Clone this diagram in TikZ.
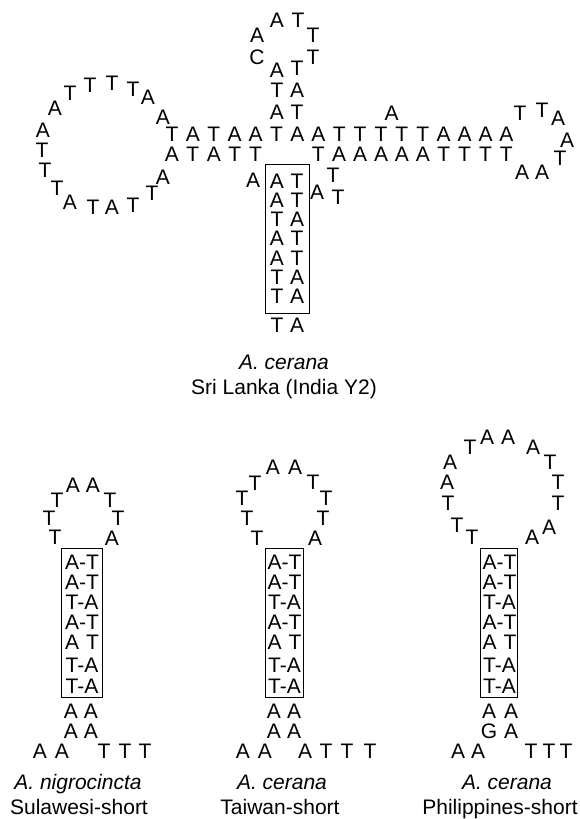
\documentclass[tikz,border=0pt]{standalone}
\usepackage{fontspec}
\setmainfont{Liberation Sans}
\begin{document}
\begin{tikzpicture}[x=1pt,y=-1pt,
  nt/.style={inner sep=0pt,font=\fontsize{21}{25}\selectfont},
  capt/.style={inner sep=0pt,anchor=base,font=\fontsize{21}{25}\selectfont},
  stembox/.style={draw,line width=0.9pt,inner sep=0pt,minimum height=149pt}]
\useasboundingbox (0,0) rectangle (579,819);
% ---------- top structure ----------
\foreach \c [count=\i] in {T,A,T,A,A,T,A,A,T,T,T,T,T,A,A,A,A}
  \node[nt] (u\i) at ({172+(\i-1)*20.9},134) {\c};
\foreach \c [count=\i] in {A,T,A,T,T}
  \node[nt] (l\i) at ({172+(\i-1)*20.9},154) {\c};
\foreach \c [count=\i from 8] in {T,A,A,A,A,A,T,T,T,T}
  \node[nt] (l\i) at ({172+(\i-1)*20.9},154) {\c};
\node[nt] (bulge) at (391.5,113) {A};
% left loop
\foreach \c/\x/\y [count=\i] in {A/163/117,A/148/97,T/133/89,T/112/83,T/90/85,T/70/93,A/55/108,A/43/130,T/42/150,T/45/170,T/57/188,A/70/202,T/93/207,A/112/207,T/133/205,T/152/193,A/163/177}
  \node[nt] (ll\i) at (\x,\y) {\c};
% right loop
\foreach \c/\x/\y [count=\i] in {T/520/113,T/542/110,A/558/118,A/567/140,T/560/158,A/542/172,A/522/172}
  \node[nt] (rl\i) at (\x,\y) {\c};
% top hairpin
\foreach \c/\x/\y [count=\i] in {A/277/112,T/297/112,T/277/90,A/297/90,A/277/70,T/297/68,C/257/57,A/257/35,A/277/20,T/298/20,T/313/35,T/313/57}
  \node[nt] (th\i) at (\x,\y) {\c};
% boxed stem
\node[stembox,minimum width=44pt] (tbox) at (287,238.5) {};
\foreach \a/\b/\y [count=\i] in {A/T/181,A/T/200,T/A/219,A/T/238,A/T/258,T/A/277,T/A/296,T/A/325}
  {\node[nt] (sa\i) at (277,\y) {\a};
   \node[nt] (sb\i) at (297,\y) {\b};}
\node[nt] (sx1) at (253,180) {A};
\node[nt] (sx2) at (317,192) {A};
\node[nt] (sx3) at (333,175) {T};
\node[nt] (sx4) at (338,197) {T};
\node[capt] (c1a) at (284,369.5) {\textit{A. cerana}};
\node[capt] (c1b) at (284,394.5) {Sri Lanka (India Y2)};
% ---------- Sulawesi ----------
\foreach \c/\x/\y [count=\i] in {T/57/500,A/73/485,A/93/485,T/110/500,T/49/518,T/118/518,T/55/537,A/112/538}
  \node[nt] (sl\i) at (\x,\y) {\c};
\node[stembox,minimum width=41pt] (sbox) at (81.5,622.5) {};
\foreach \t/\y [count=\i] in {A-T/562,A-T/582,T-A/602,A-T/622,A\hphantom{-}T/642,T-A/665,T-A/686}
  \node[nt] (sr\i) at (82,\y) {\t};
\foreach \c/\x/\y [count=\i] in {A/71/711,A/91/711,A/71/731,A/91/731,A/40/751,A/62/751,T/104/751,T/125/751,T/145/751}
  \node[nt] (st\i) at (\x,\y) {\c};
\node[capt] (c2a) at (78,789.5) {\textit{A. nigrocincta}};
\node[capt] (c2b) at (79,814) {Sulawesi-short};
% ---------- Taiwan ----------
\foreach \c/\x/\y [count=\i] in {A/273/467,A/295/467,T/255/483,T/313/482,T/242/498,T/326/498,T/247/518,T/323/518,T/257/538,A/315/538}
  \node[nt] (tl\i) at (\x,\y) {\c};
\node[stembox,minimum width=38pt] (twbox) at (284,622.5) {};
\foreach \t/\y [count=\i] in {A-T/562,A-T/582,T-A/602,A-T/622,A\hphantom{-}T/642,T-A/665,T-A/686}
  \node[nt] (tr\i) at (284.5,\y) {\t};
\foreach \c/\x/\y [count=\i] in {A/274/711,A/294/711,A/274/731,A/294/731,A/243/751,A/265/751,A/305/751,T/326/751,T/347/751,T/370/751}
  \node[nt] (tt\i) at (\x,\y) {\c};
\node[capt] (c3a) at (282,789.5) {\textit{A. cerana}};
\node[capt] (c3b) at (280,814) {Taiwan-short};
% ---------- Philippines ----------
\foreach \c/\x/\y [count=\i] in {T/470/447,A/487/437,A/508/437,A/533/447,A/450/462,T/550/462,A/447/482,T/558/482,T/448/503,T/558/503,T/457/525,T/472/537,A/532/537,A/549/527}
  \node[nt] (pl\i) at (\x,\y) {\c};
\node[stembox,minimum width=37pt] (pbox) at (499,622.5) {};
\foreach \t/\y [count=\i] in {A-T/562,A-T/582,T-A/602,A-T/622,A\hphantom{-}T/642,T-A/665,T-A/686}
  \node[nt] (pr\i) at (499.5,\y) {\t};
\foreach \c/\x/\y [count=\i] in {A/489/711,A/511/711,G/489/731,A/511/731,A/458/751,A/478/751,T/531/751,T/549/751,T/566/751}
  \node[nt] (pt\i) at (\x,\y) {\c};
\node[capt] (c4a) at (507,789.5) {\textit{A. cerana}};
\node[capt] (c4b) at (500,814) {Philippines-short};
\end{tikzpicture}
\end{document}
